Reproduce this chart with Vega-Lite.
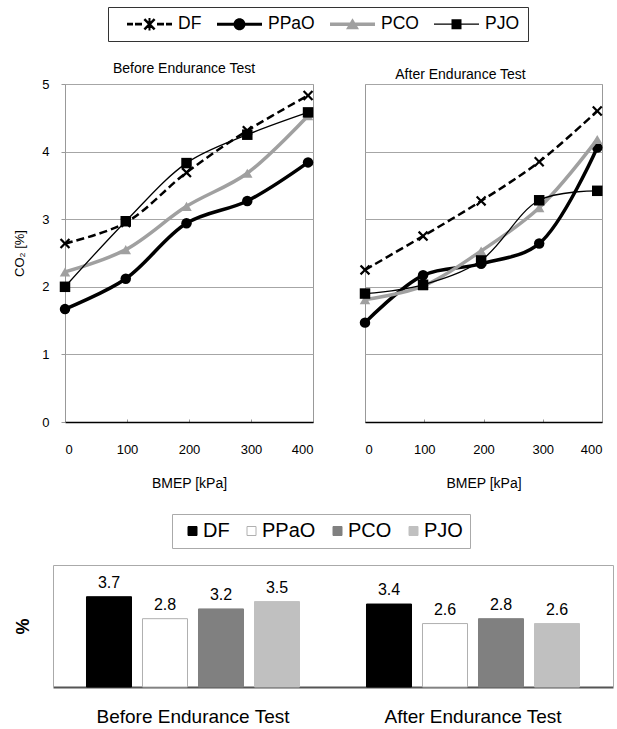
{
  "$schema": "https://vega.github.io/schema/vega-lite/v6.json",
  "background": "white",
  "padding": {"left": 13, "top": 6, "right": 0, "bottom": 0},
  "config": {
    "font": "Liberation Sans",
    "view": {"stroke": "#999999"},
    "axis": {"labelColor": "black", "titleColor": "black", "titleFontWeight": "normal", "gridColor": "#a6a6a6", "tickColor": "#999999"},
    "legend": {"labelColor": "black", "labelFont": "Liberation Sans"}
  },
  "datasets": {
    "lines": [
      {"test": "Before", "fuel": "DF", "bmep": 0, "co2": 2.64},
      {"test": "Before", "fuel": "DF", "bmep": 98, "co2": 2.95},
      {"test": "Before", "fuel": "DF", "bmep": 196, "co2": 3.69},
      {"test": "Before", "fuel": "DF", "bmep": 294, "co2": 4.31},
      {"test": "Before", "fuel": "DF", "bmep": 392, "co2": 4.83},
      {"test": "Before", "fuel": "PPaO", "bmep": 0, "co2": 1.67},
      {"test": "Before", "fuel": "PPaO", "bmep": 98, "co2": 2.12},
      {"test": "Before", "fuel": "PPaO", "bmep": 196, "co2": 2.94},
      {"test": "Before", "fuel": "PPaO", "bmep": 294, "co2": 3.27},
      {"test": "Before", "fuel": "PPaO", "bmep": 392, "co2": 3.84},
      {"test": "Before", "fuel": "PCO", "bmep": 0, "co2": 2.22},
      {"test": "Before", "fuel": "PCO", "bmep": 98, "co2": 2.55},
      {"test": "Before", "fuel": "PCO", "bmep": 196, "co2": 3.19},
      {"test": "Before", "fuel": "PCO", "bmep": 294, "co2": 3.68},
      {"test": "Before", "fuel": "PCO", "bmep": 392, "co2": 4.53},
      {"test": "Before", "fuel": "PJO", "bmep": 0, "co2": 2.0},
      {"test": "Before", "fuel": "PJO", "bmep": 98, "co2": 2.97},
      {"test": "Before", "fuel": "PJO", "bmep": 196, "co2": 3.83},
      {"test": "Before", "fuel": "PJO", "bmep": 294, "co2": 4.25},
      {"test": "Before", "fuel": "PJO", "bmep": 392, "co2": 4.58},
      {"test": "After", "fuel": "DF", "bmep": 0, "co2": 2.25},
      {"test": "After", "fuel": "DF", "bmep": 98, "co2": 2.75},
      {"test": "After", "fuel": "DF", "bmep": 196, "co2": 3.27},
      {"test": "After", "fuel": "DF", "bmep": 294, "co2": 3.85},
      {"test": "After", "fuel": "DF", "bmep": 392, "co2": 4.6},
      {"test": "After", "fuel": "PPaO", "bmep": 0, "co2": 1.47},
      {"test": "After", "fuel": "PPaO", "bmep": 98, "co2": 2.17},
      {"test": "After", "fuel": "PPaO", "bmep": 196, "co2": 2.34},
      {"test": "After", "fuel": "PPaO", "bmep": 294, "co2": 2.64},
      {"test": "After", "fuel": "PPaO", "bmep": 392, "co2": 4.06},
      {"test": "After", "fuel": "PCO", "bmep": 0, "co2": 1.81},
      {"test": "After", "fuel": "PCO", "bmep": 98, "co2": 2.01},
      {"test": "After", "fuel": "PCO", "bmep": 196, "co2": 2.53},
      {"test": "After", "fuel": "PCO", "bmep": 294, "co2": 3.17},
      {"test": "After", "fuel": "PCO", "bmep": 392, "co2": 4.18},
      {"test": "After", "fuel": "PJO", "bmep": 0, "co2": 1.9},
      {"test": "After", "fuel": "PJO", "bmep": 98, "co2": 2.03},
      {"test": "After", "fuel": "PJO", "bmep": 196, "co2": 2.39},
      {"test": "After", "fuel": "PJO", "bmep": 294, "co2": 3.28},
      {"test": "After", "fuel": "PJO", "bmep": 392, "co2": 3.42}
    ],
    "bars": [
      {"test": "Before Endurance Test", "fuel": "DF", "co2": 3.7},
      {"test": "Before Endurance Test", "fuel": "PPaO", "co2": 2.8},
      {"test": "Before Endurance Test", "fuel": "PCO", "co2": 3.2},
      {"test": "Before Endurance Test", "fuel": "PJO", "co2": 3.5},
      {"test": "After Endurance Test", "fuel": "DF", "co2": 3.4},
      {"test": "After Endurance Test", "fuel": "PPaO", "co2": 2.6},
      {"test": "After Endurance Test", "fuel": "PCO", "co2": 2.8},
      {"test": "After Endurance Test", "fuel": "PJO", "co2": 2.6}
    ]
  },
  "spacing": 22,
  "resolve": {"scale": {"color": "independent", "shape": "independent", "fill": "independent", "stroke": "independent"}},
  "vconcat": [
    {
      "spacing": 52,
      "bounds": "flush",
      "resolve": {"scale": {"color": "shared", "shape": "shared"}},
      "hconcat": [
        {
          "width": 248,
          "height": 338,
          "title": {"text": "Before Endurance Test", "fontSize": 14, "fontWeight": "normal", "frame": "group", "offset": 2, "dx": -5},
          "data": {"name": "lines"},
          "transform": [{"filter": "datum.test === 'Before'"}],
          "encoding": {
            "x": {
              "field": "bmep", "type": "quantitative",
              "scale": {"domain": [0, 400], "nice": false},
              "axis": {"values": [0, 100, 200, 300, 400], "title": "BMEP [kPa]", "titleFontSize": 14, "titlePadding": 20, "labelFontSize": 13, "labelPadding": 24, "tickSize": -3, "domainColor": "black", "domainWidth": 1.5, "grid": false}
            },
            "y": {
              "field": "co2", "type": "quantitative",
              "scale": {"domain": [0, 5]},
              "axis": {"values": [0, 1, 2, 3, 4, 5], "title": "CO₂ [%]", "titleFontSize": 13, "titlePadding": 15, "labelFontSize": 13, "labelPadding": 12, "tickSize": 4, "domain": false, "grid": true}
            }
          },
          "layer": [
            {
              "transform": [{"filter": "datum.fuel === 'DF'"}],
              "layer": [
                {"mark": {"type": "line", "interpolate": "catmull-rom", "color": "black", "strokeWidth": 2.5, "strokeDash": [8, 4]}},
                {"mark": {"type": "point", "shape": "M-1,-0.7L-0.7,-1L0,-0.3L0.7,-1L1,-0.7L0.3,0L1,0.7L0.7,1L0,0.3L-0.7,1L-1,0.7L-0.3,0Z", "filled": true, "opacity": 1, "size": 110, "color": "black"}}
              ]
            },
            {
              "transform": [{"filter": "datum.fuel === 'PPaO'"}],
              "layer": [
                {"mark": {"type": "line", "interpolate": "catmull-rom", "color": "black", "strokeWidth": 3.5}},
                {"mark": {"type": "point", "shape": "circle", "filled": true, "opacity": 1, "size": 110, "color": "black"}}
              ]
            },
            {
              "transform": [{"filter": "datum.fuel === 'PCO'"}],
              "layer": [
                {"mark": {"type": "line", "interpolate": "catmull-rom", "color": "#a0a0a0", "strokeWidth": 3.5}},
                {"mark": {"type": "point", "shape": "triangle-up", "filled": true, "opacity": 1, "size": 110, "color": "#a0a0a0"}}
              ]
            },
            {
              "transform": [{"filter": "datum.fuel === 'PJO'"}],
              "layer": [
                {"mark": {"type": "line", "interpolate": "catmull-rom", "color": "black", "strokeWidth": 1.3}},
                {"mark": {"type": "point", "shape": "square", "filled": true, "opacity": 1, "size": 110, "color": "black"}}
              ]
            },
            {
              "mark": {"type": "point", "filled": true, "opacity": 0, "size": 100},
              "encoding": {
                "color": {
                  "field": "fuel", "type": "nominal",
                  "scale": {"domain": ["DF", "PPaO", "PCO", "PJO"], "range": ["black", "black", "#a0a0a0", "black"]},
                  "legend": {
                    "orient": "none", "legendX": 43, "legendY": -77, "direction": "horizontal", "title": null,
                    "symbolSize": 100, "symbolStrokeWidth": 0, "symbolOpacity": 1, "symbolOffset": 24.75, "labelOffset": 19.75,
                    "labelFontSize": 17.5, "columnPadding": 4, "padding": 8, "strokeColor": "#333333", "fillColor": "white"
                  }
                },
                "shape": {
                  "field": "fuel", "type": "nominal",
                  "scale": {
                    "domain": ["DF", "PPaO", "PCO", "PJO"],
                    "range": [
                      "M-4.5,-0.28L-3.3,-0.28L-3.3,0.28L-4.5,0.28ZM-2.9,-0.28L-1.5,-0.28L-1.5,0.28L-2.9,0.28ZM1.5,-0.28L2.9,-0.28L2.9,0.28L1.5,0.28ZM3.3,-0.28L4.5,-0.28L4.5,0.28L3.3,0.28ZM-1.2,-0.85L-0.85,-1.2L0,-0.35L0.85,-1.2L1.2,-0.85L0.35,0L1.2,0.85L0.85,1.2L0,0.35L-0.85,1.2L-1.2,0.85L-0.35,0ZM-0.2,-1.25L0.2,-1.25L0.2,1.25L-0.2,1.25Z",
                      "M-4.5,-0.3L4.5,-0.3L4.5,0.3L-4.5,0.3ZM1.2,0A1.2,1.2 0 1,1 -1.2,0A1.2,1.2 0 1,1 1.2,0Z",
                      "M-4.5,-0.35L4.5,-0.35L4.5,0.35L-4.5,0.35ZM0,-1.2L1.3,1L-1.3,1Z",
                      "M-4.5,-0.13L4.5,-0.13L4.5,0.13L-4.5,0.13ZM-1,-1L1,-1L1,1L-1,1Z"
                    ]
                  },
                  "legend": {
                    "orient": "none", "legendX": 43, "legendY": -77, "direction": "horizontal", "title": null,
                    "symbolSize": 100, "symbolStrokeWidth": 0, "symbolOpacity": 1, "symbolOffset": 24.75, "labelOffset": 19.75,
                    "labelFontSize": 17.5, "columnPadding": 4, "padding": 8, "strokeColor": "#333333", "fillColor": "white"
                  }
                }
              }
            }
          ]
        },
        {
          "width": 237,
          "height": 338,
          "title": {"text": "After Endurance Test", "fontSize": 14, "fontWeight": "normal", "frame": "group", "offset": 2, "dx": -23},
          "data": {"name": "lines"},
          "transform": [{"filter": "datum.test === 'After'"}],
          "encoding": {
            "x": {
              "field": "bmep", "type": "quantitative",
              "scale": {"domain": [0, 400], "nice": false},
              "axis": {"values": [0, 100, 200, 300, 400], "title": "BMEP [kPa]", "titleFontSize": 14, "titlePadding": 20, "labelFontSize": 13, "labelPadding": 24, "tickSize": -3, "domainColor": "black", "domainWidth": 1.5, "grid": false}
            },
            "y": {
              "field": "co2", "type": "quantitative",
              "scale": {"domain": [0, 5]},
              "axis": {"values": [0, 1, 2, 3, 4, 5], "title": null, "labels": false, "ticks": false, "domain": false, "grid": true}
            }
          },
          "layer": [
            {
              "transform": [{"filter": "datum.fuel === 'DF'"}],
              "layer": [
                {"mark": {"type": "line", "interpolate": "catmull-rom", "color": "black", "strokeWidth": 2.5, "strokeDash": [8, 4]}},
                {"mark": {"type": "point", "shape": "M-1,-0.7L-0.7,-1L0,-0.3L0.7,-1L1,-0.7L0.3,0L1,0.7L0.7,1L0,0.3L-0.7,1L-1,0.7L-0.3,0Z", "filled": true, "opacity": 1, "size": 110, "color": "black"}}
              ]
            },
            {
              "transform": [{"filter": "datum.fuel === 'PPaO'"}],
              "layer": [
                {"mark": {"type": "line", "interpolate": "catmull-rom", "color": "black", "strokeWidth": 3.5}},
                {"mark": {"type": "point", "shape": "circle", "filled": true, "opacity": 1, "size": 110, "color": "black"}}
              ]
            },
            {
              "transform": [{"filter": "datum.fuel === 'PCO'"}],
              "layer": [
                {"mark": {"type": "line", "interpolate": "catmull-rom", "color": "#a0a0a0", "strokeWidth": 3.5}},
                {"mark": {"type": "point", "shape": "triangle-up", "filled": true, "opacity": 1, "size": 110, "color": "#a0a0a0"}}
              ]
            },
            {
              "transform": [{"filter": "datum.fuel === 'PJO'"}],
              "layer": [
                {"mark": {"type": "line", "interpolate": "catmull-rom", "color": "black", "strokeWidth": 1.3}},
                {"mark": {"type": "point", "shape": "square", "filled": true, "opacity": 1, "size": 110, "color": "black"}}
              ]
            }
          ]
        }
      ]
    },
    {
      "width": 548,
      "height": 122,
      "view": {"stroke": null},
      "data": {"name": "bars"},
      "resolve": {"axis": {"x": "independent", "y": "independent"}},
      "layer": [
        {
          "mark": {"type": "bar", "strokeWidth": 1},
          "encoding": {
            "x": {
              "field": "test", "type": "nominal",
              "sort": ["Before Endurance Test", "After Endurance Test"],
              "scale": {"range": [-12, 548], "paddingInner": 0, "paddingOuter": 0},
              "axis": {"title": null, "labelAngle": 0, "labelFontSize": 19, "labelPadding": 20, "labelLimit": 0, "ticks": false, "domainColor": "#555555", "domainWidth": 2}
            },
            "xOffset": {
              "field": "fuel", "type": "nominal",
              "sort": ["DF", "PPaO", "PCO", "PJO"],
              "scale": {"paddingInner": 0.196, "paddingOuter": 0.598}
            },
            "y": {
              "field": "co2", "type": "quantitative",
              "scale": {"domain": [0, 5]},
              "axis": {"title": "%", "titleFontSize": 18, "titleFontWeight": "bold", "titlePadding": 21, "offset": 12, "labels": false, "ticks": false, "domain": true, "domainColor": "#aaaaaa", "grid": false}
            },
            "fill": {
              "field": "fuel", "type": "nominal",
              "scale": {"domain": ["DF", "PPaO", "PCO", "PJO"], "range": ["black", "white", "#808080", "#c0c0c0"]},
              "legend": {
                "orient": "none", "legendX": 107, "legendY": -51, "direction": "horizontal", "title": null,
                "symbolType": "square", "symbolSize": 81, "symbolStrokeWidth": 1, "symbolOffset": 3.5, "labelOffset": 0.5,
                "labelFontSize": 20, "columnPadding": 8, "padding": 7, "strokeColor": "#aaaaaa", "fillColor": "white"
              }
            },
            "stroke": {
              "field": "fuel", "type": "nominal",
              "scale": {"domain": ["DF", "PPaO", "PCO", "PJO"], "range": ["black", "#b0b0b0", "#808080", "#c0c0c0"]}
            }
          }
        },
        {
          "mark": {"type": "text", "baseline": "bottom", "dy": -6, "fontSize": 16},
          "encoding": {
            "x": {
              "field": "test", "type": "nominal",
              "sort": ["Before Endurance Test", "After Endurance Test"],
              "scale": {"range": [-12, 548], "paddingInner": 0, "paddingOuter": 0},
              "axis": {"orient": "top", "title": null, "labels": false, "ticks": false, "domainColor": "#aaaaaa", "domainWidth": 1}
            },
            "xOffset": {
              "field": "fuel", "type": "nominal",
              "sort": ["DF", "PPaO", "PCO", "PJO"],
              "scale": {"paddingInner": 0.196, "paddingOuter": 0.598}
            },
            "y": {
              "field": "co2", "type": "quantitative",
              "scale": {"domain": [0, 5]},
              "axis": {"orient": "right", "title": null, "labels": false, "ticks": false, "domain": true, "domainColor": "#aaaaaa", "grid": false}
            },
            "text": {"field": "co2", "type": "quantitative", "format": ".1f"}
          }
        }
      ]
    }
  ]
}
